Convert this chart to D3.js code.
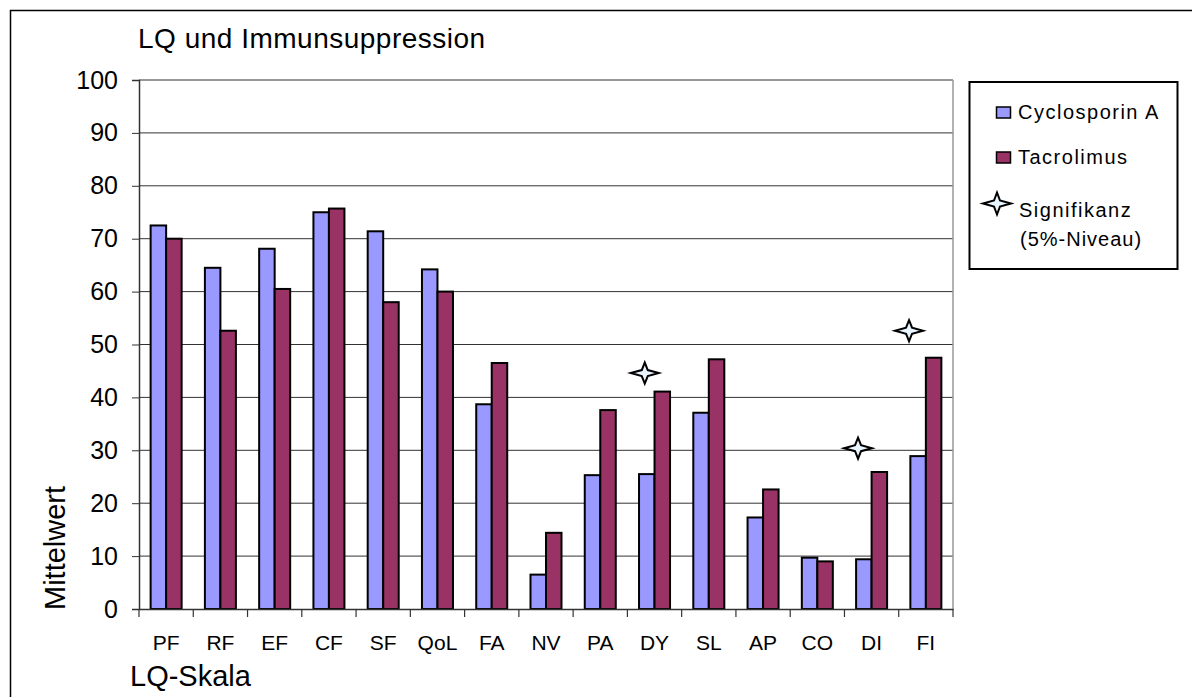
<!DOCTYPE html>
<html>
<head>
<meta charset="utf-8">
<script src="https://cdn.jsdelivr.net/npm/d3@7"></script>
<style>
  body { margin: 0; background: #fff; }
  text { font-family: "Liberation Sans", Arial, sans-serif; fill: #000; }
</style>
</head>
<body>
<div id="chart"></div>
<script>
// data
const categories = ["PF", "RF", "EF", "CF", "SF", "QoL", "FA", "NV", "PA", "DY", "SL", "AP", "CO", "DI", "FI"];
const cyclosporin = [72.5, 64.5, 68.1, 75.0, 71.4, 64.2, 38.7, 6.5, 25.3, 25.5, 37.1, 17.3, 9.7, 9.4, 28.9];
const tacrolimus = [70.0, 52.6, 60.5, 75.7, 58.0, 60.0, 46.5, 14.4, 37.6, 41.1, 47.2, 22.6, 9.0, 25.9, 47.5];
// significance markers: position on the category axis (index units) and value
const starPos = [9.32, 13.25, 14.19];
const starVal = [44.6, 30.4, 52.6];
const yTicks = [0, 10, 20, 30, 40, 50, 60, 70, 80, 90, 100];
const seriesNames = ["Cyclosporin A", "Tacrolimus"];
const colors = ["#9999FF", "#993366"];

const W = 1192, H = 697;
const plot = {left: 139, right: 953, top: 80, bottom: 609};

const svg = d3.select("#chart").append("svg")
  .attr("width", W)
  .attr("height", H);

// outer frame
svg.append("rect")
  .attr("x", 10.5).attr("y", 10.5)
  .attr("width", 1200).attr("height", 720)
  .attr("fill", "none").attr("stroke", "#000").attr("stroke-width", 1.5);

const x0 = d3.scaleBand().domain(categories).range([plot.left, plot.right]).padding(0);
const x1 = d3.scaleBand().domain([0, 1]).range([0, x0.bandwidth()]).paddingInner(0).paddingOuter(0.75);
const xLin = d3.scaleLinear().domain([0, categories.length]).range([plot.left, plot.right]);
const y = d3.scaleLinear().domain([0, 100]).range([plot.bottom, plot.top]);

// grid lines
svg.append("g")
  .selectAll("line")
  .data(yTicks.filter(d => d > 0))
  .join("line")
  .attr("x1", plot.left).attr("x2", plot.right)
  .attr("y1", d => y(d)).attr("y2", d => y(d))
  .attr("stroke", "#333").attr("stroke-width", 1);

// right border of plot area
svg.append("line")
  .attr("x1", plot.right).attr("x2", plot.right)
  .attr("y1", plot.top).attr("y2", plot.bottom)
  .attr("stroke", "#999").attr("stroke-width", 1.5);

// bars
const series = [cyclosporin, tacrolimus];
series.forEach((vals, s) => {
  svg.append("g")
    .selectAll("rect")
    .data(vals)
    .join("rect")
    .attr("x", (d, i) => x0(categories[i]) + x1(s))
    .attr("y", d => y(d))
    .attr("width", x1.bandwidth())
    .attr("height", d => y(0) - y(d))
    .attr("fill", colors[s])
    .attr("stroke", "#000")
    .attr("stroke-width", 2);
});

// y axis
const yAxis = svg.append("g")
  .attr("transform", `translate(${plot.left},0)`)
  .call(d3.axisLeft(y).tickValues(yTicks).tickSize(7).tickPadding(14));
yAxis.select(".domain").attr("stroke", "#333").attr("stroke-width", 1.5);
yAxis.selectAll(".tick line").attr("stroke", "#333");
yAxis.selectAll("text")
  .style("font-size", "25px")
  .style("font-family", "'Liberation Sans', Arial, sans-serif");

// x axis
const xAxis = svg.append("g")
  .attr("transform", `translate(0,${plot.bottom})`)
  .call(d3.axisBottom(x0).tickSize(0).tickPadding(26));
xAxis.select(".domain").attr("stroke", "#333").attr("stroke-width", 1.5);
xAxis.selectAll("text")
  .style("font-size", "21px")
  .style("font-family", "'Liberation Sans', Arial, sans-serif");

// x tick marks at category boundaries
svg.append("g")
  .selectAll("line")
  .data(d3.range(categories.length + 1))
  .join("line")
  .attr("x1", d => xLin(d)).attr("x2", d => xLin(d))
  .attr("y1", plot.bottom).attr("y2", plot.bottom + 8)
  .attr("stroke", "#333").attr("stroke-width", 1.2);

// star marker path (4-pointed)
function starPath(cx, cy, rx, ry, k) {
  return `M${cx - rx},${cy} L${cx - k},${cy - k} L${cx},${cy - ry} L${cx + k},${cy - k} ` +
         `L${cx + rx},${cy} L${cx + k},${cy + k} L${cx},${cy + ry} L${cx - k},${cy + k} Z`;
}

svg.append("g")
  .selectAll("path")
  .data(starPos)
  .join("path")
  .attr("d", (d, i) => starPath(xLin(d), y(starVal[i]), 14, 10.5, 3))
  .attr("fill", "#e8f4ff")
  .attr("stroke", "#000")
  .attr("stroke-width", 2)
  .attr("stroke-linejoin", "miter");

// titles
svg.append("text")
  .attr("x", 138).attr("y", 48)
  .style("font-size", "28px")
  .style("letter-spacing", "0.5px")
  .text("LQ und Immunsuppression");

svg.append("text")
  .attr("x", 130).attr("y", 686)
  .style("font-size", "29px")
  .text("LQ-Skala");

svg.append("text")
  .attr("transform", "translate(65,610) rotate(-90)")
  .style("font-size", "29px")
  .text("Mittelwert");

// legend
const legend = svg.append("g");
legend.append("rect")
  .attr("x", 969.5).attr("y", 82)
  .attr("width", 208).attr("height", 187)
  .attr("fill", "#fff").attr("stroke", "#000").attr("stroke-width", 2);

seriesNames.forEach((name, i) => {
  const yb = 119 + i * 45;
  legend.append("rect")
    .attr("x", 996.5).attr("y", yb - 12)
    .attr("width", 14).attr("height", 11)
    .attr("fill", colors[i]).attr("stroke", "#000").attr("stroke-width", 1.5);
  legend.append("text")
    .attr("x", 1018).attr("y", yb)
    .style("font-size", "20px")
    .style("letter-spacing", "1.5px")
    .text(name);
});

legend.append("path")
  .attr("d", starPath(997, 203.5, 14, 11, 3))
  .attr("fill", "#e8f4ff")
  .attr("stroke", "#000")
  .attr("stroke-width", 2);
legend.append("text")
  .attr("x", 1019).attr("y", 217)
  .style("font-size", "20px")
  .style("letter-spacing", "1.5px")
  .text("Signifikanz");
legend.append("text")
  .attr("x", 1020).attr("y", 246)
  .style("font-size", "20px")
  .style("letter-spacing", "1px")
  .text("(5%-Niveau)");
</script>
</body>
</html>
